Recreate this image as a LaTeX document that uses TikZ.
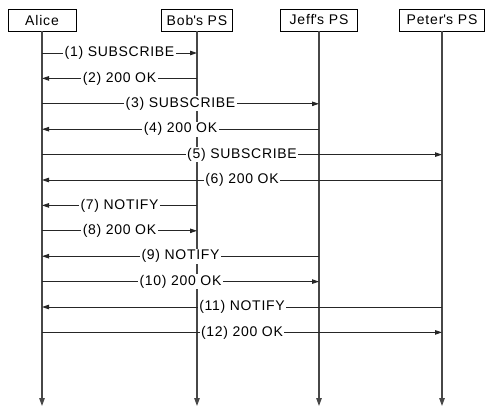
\documentclass[tikz,border=0pt]{standalone}
\usepackage{fontspec}
\setmainfont{Liberation Sans}
\usetikzlibrary{arrows.meta}
\tikzset{party/.style={draw, line width=0.9pt, minimum height=22pt, inner xsep=4.5pt, inner ysep=0pt, font=\fontsize{14}{14}\selectfont\addfontfeature{LetterSpace=6}},
  life/.style={draw=black!72, line width=1.2pt, -{Triangle[length=8pt, width=5.5pt]}},
  msg/.style={draw=black!85, line width=0.9pt, -{Triangle[length=7pt, width=4.5pt]}},
  lbl/.style={fill=white, inner xsep=1.5pt, inner ysep=1pt, font=\fontsize{14}{14}\selectfont\addfontfeature{LetterSpace=5}}}
\begin{document}
\begin{tikzpicture}[x=1pt, y=-1pt]
  \useasboundingbox (0,0) rectangle (487,407);
  % participants
  \node[party, minimum width=68pt] (alice) at (42,20)  {Alice};
  \node[party, minimum width=71pt] (bob)   at (197,20) {Bob\textquotesingle s PS};
  \node[party, minimum width=77pt] (jeff)  at (319,20) {Jeff\textquotesingle s PS};
  \node[party, minimum width=85pt] (peter) at (442,20) {Peter\textquotesingle s PS};
  \coordinate (end) at (0,406);
  % lifelines
  \foreach \n in {alice, bob, jeff, peter}{
    \draw[life] (\n.south) -- (\n.south |- end);}
  % messages
  \foreach \i/\s/\t/\l in {1/alice/bob/{(1) SUBSCRIBE}, 2/bob/alice/{(2) 200 OK},
      3/alice/jeff/{(3) SUBSCRIBE}, 4/jeff/alice/{(4) 200 OK},
      5/alice/peter/{(5) SUBSCRIBE}, 6/peter/alice/{(6) 200 OK},
      7/bob/alice/{(7) NOTIFY}, 8/alice/bob/{(8) 200 OK},
      9/jeff/alice/{(9) NOTIFY}, 10/alice/jeff/{(10) 200 OK},
      11/peter/alice/{(11) NOTIFY}, 12/alice/peter/{(12) 200 OK}}{
    \pgfmathsetmacro\y{53+(\i-1)*25.4}
    \draw[msg] (\s |- 0,\y) -- node[lbl] {\l} (\t |- 0,\y);}
\end{tikzpicture}
\end{document}
